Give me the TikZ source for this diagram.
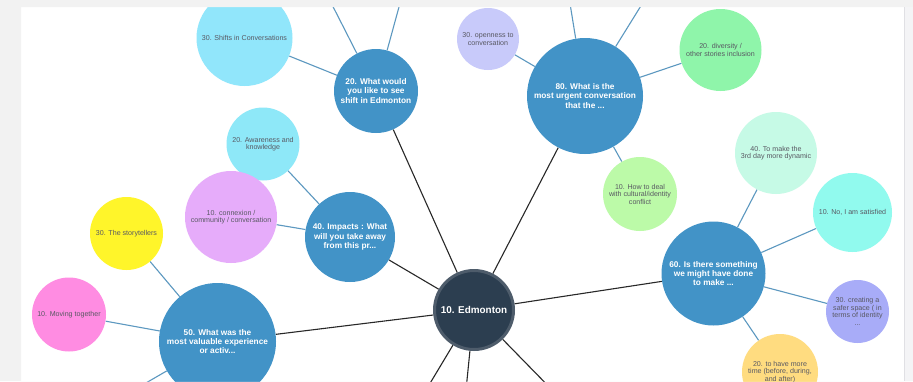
\documentclass[tikz,border=0pt]{standalone}
\usepackage{fontspec}
\setmainfont{Liberation Sans}
\pgfdeclarelayer{bg}
\pgfdeclarelayer{fg}
\pgfsetlayers{bg,main,fg}
\definecolor{pagegrey}{RGB}{242,242,242}
\definecolor{stripgrey}{RGB}{244,244,246}
\definecolor{stripline}{RGB}{224,224,228}
\definecolor{parentblue}{RGB}{66,147,199}
\definecolor{hubfill}{RGB}{44,62,80}
\definecolor{hubborder}{RGB}{78,92,107}
\definecolor{linkblue}{RGB}{92,152,192}
\definecolor{hublink}{RGB}{40,40,40}
\definecolor{childtext}{RGB}{88,88,98}
\definecolor{cShift}{RGB}{145,230,251}
\definecolor{cAware}{RGB}{142,232,248}
\definecolor{cConnex}{RGB}{230,172,250}
\definecolor{cStory}{RGB}{255,245,42}
\definecolor{cMoving}{RGB}{255,140,226}
\definecolor{cOpen}{RGB}{200,202,250}
\definecolor{cDivers}{RGB}{143,245,170}
\definecolor{cHowto}{RGB}{188,250,168}
\definecolor{cMake}{RGB}{198,250,230}
\definecolor{cSatis}{RGB}{145,250,238}
\definecolor{cSafer}{RGB}{168,172,248}
\definecolor{cTime}{RGB}{255,220,128}
\begin{document}
\begin{tikzpicture}[x=1pt,y=-1pt,
  parent/.style={circle,fill=parentblue,inner sep=0pt,align=center,text=white,
    font=\fontsize{8.3}{9.3}\selectfont\bfseries},
  child/.style={circle,inner sep=0pt,align=center,text=childtext,
    font=\fontsize{7.1}{7.5}\selectfont},
  hub/.style={circle,fill=hubfill,draw=hubborder,line width=3pt,inner sep=0pt,
    text=white,font=\fontsize{9.9}{11}\selectfont\bfseries},
  hlink/.style={draw=hublink,line width=1.1pt},
  clink/.style={draw=linkblue,line width=1.1pt}]
\useasboundingbox (0,0) rectangle (913,381);
\begin{pgfonlayer}{bg}
  \fill[white] (21,7) rectangle (904,381);
\end{pgfonlayer}

% hub
\node[hub,minimum size=79pt] (ed) at (474,310) {10. Edmonton};

% parents
\node[parent,minimum size=84pt] (n20) at (376,91) {20. What would\\you like to see\\shift in Edmonton};
\node[parent,minimum size=90pt] (n40) at (350,237) {40. Impacts : What\\will you take away\\from this pr...};
\node[parent,minimum size=117pt] (n50) at (217.5,341.5) {50. What was the\\most valuable experience\\or activ...};
\node[parent,minimum size=116pt] (n80) at (585,96) {80. What is the\\most urgent conversation\\that the ...};
\node[parent,minimum size=104pt] (n60) at (713.5,273.5) {60. Is there something\\we might have done\\to make ...};

% children
\node[child,fill=cShift,minimum size=96pt] (shift) at (244.5,38) {30. Shifts in Conversations};
\node[child,fill=cAware,minimum size=73pt] (aware) at (263,144) {20. Awareness and\\knowledge};
\node[child,fill=cConnex,minimum size=92pt] (connex) at (231,217) {10. connexion /\\community / conversation};
\node[child,fill=cStory,minimum size=73pt] (story) at (126.5,233.5) {30. The storytellers};
\node[child,fill=cMoving,minimum size=74pt] (moving) at (69,314.5) {10. Moving together};
\node[child,fill=cOpen,minimum size=62pt] (open) at (488,39) {30. openness to\\conversation};
\node[child,fill=cDivers,minimum size=82pt] (divers) at (720.5,50) {20. diversity /\\other stories inclusion};
\node[child,fill=cHowto,minimum size=74pt] (howto) at (640,194) {10. How to deal\\with cultural/identity\\conflict};
\node[child,fill=cMake,minimum size=82pt] (make) at (776,153) {40. To make the\\3rd day more dynamic};
\node[child,fill=cSatis,minimum size=79pt] (satis) at (852.5,212.5) {10. No, I am satisfied};
\node[child,fill=cSafer,minimum size=63pt] (safer) at (857.5,311.5) {30. creating a\\safer space ( in\\terms of identity\\...};
\node[child,fill=cTime,minimum size=76pt] (time) at (780,372) {20. to have more\\time (before, during,\\and after)};

% off-panel ends
\coordinate (e1) at (420,400);
\coordinate (e2) at (465,400);
\coordinate (e3) at (562,400);
\coordinate (u1) at (322,-15);
\coordinate (u2) at (405,-15);
\coordinate (u3) at (567,-15);
\coordinate (u4) at (652,-12);
\coordinate (d1) at (120,398);

\begin{pgfonlayer}{bg}
  \path[hlink] (ed) -- (n20);
  \path[hlink] (ed) -- (n40);
  \path[hlink] (ed) -- (n50);
  \path[hlink] (ed) -- (n80);
  \path[hlink] (ed) -- (n60);
  \path[hlink] (ed) -- (e1);
  \path[hlink] (ed) -- (e2);
  \path[hlink] (ed) -- (e3);
  \path[clink] (n20) -- (shift);
  \path[clink] (n20) -- (u1);
  \path[clink] (n20) -- (u2);
  \path[clink] (n40) -- (aware);
  \path[clink] (n40) -- (connex);
  \path[clink] (n50) -- (story);
  \path[clink] (n50) -- (moving);
  \path[clink] (n50) -- (d1);
  \path[clink] (n80) -- (open);
  \path[clink] (n80) -- (divers);
  \path[clink] (n80) -- (howto);
  \path[clink] (n80) -- (u3);
  \path[clink] (n80) -- (u4);
  \path[clink] (n60) -- (make);
  \path[clink] (n60) -- (satis);
  \path[clink] (n60) -- (safer);
  \path[clink] (n60) -- (time);
\end{pgfonlayer}

\begin{pgfonlayer}{fg}
  \fill[pagegrey,even odd rule] (0,0) rectangle (913,381) (21,7) rectangle (904,381);
  \fill[stripgrey] (905,7) rectangle (913,381);
  \draw[stripline,line width=1pt] (904.5,7) -- (904.5,381);
\end{pgfonlayer}
\end{tikzpicture}
\end{document}
